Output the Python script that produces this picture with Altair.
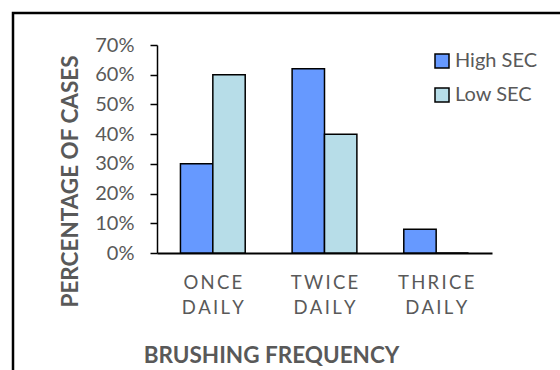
import altair as alt
import pandas as pd

categories = ["ONCE DAILY", "TWICE DAILY", "THRICE DAILY"]
series = ["High SEC", "Low SEC"]
high_sec = [30, 62, 8]
low_sec = [60, 40, 0]
y_ticks = [0, 10, 20, 30, 40, 50, 60, 70]
colors = ["#6699FF", "#B7DDE8"]

rows = []
for c, h, l in zip(categories, high_sec, low_sec):
    rows.append({"freq": c, "group": series[0], "pct": h})
    rows.append({"freq": c, "group": series[1], "pct": l})
df = pd.DataFrame(rows)

FONT = "Lato"
GREY = "#595959"

bars = alt.Chart(df).mark_bar(stroke="black", strokeWidth=1.5).encode(
    x=alt.X("freq:N", sort=categories,
            scale=alt.Scale(paddingInner=0.42, paddingOuter=0.21),
            axis=alt.Axis(
                title="BRUSHING FREQUENCY",
                labelAngle=0,
                labelExpr="[join(split(split(datum.label, ' ')[0], ''), '\u2009'), join(split(split(datum.label, ' ')[1], ''), '\u2009')]",
                labelFont=FONT, labelFontSize=18.5, labelColor=GREY,
                labelPadding=20, labelLineHeight=25, labelBaseline="top",
                ticks=False, domainColor="black", domainWidth=2,
                titleFont=FONT, titleFontSize=22.5, titleFontWeight="bold",
                titleColor=GREY, titleX=114, titleY=102, titleBaseline="middle",
                titleAlign="center",
            )),
    xOffset=alt.XOffset("group:N", sort=series,
                        scale=alt.Scale(paddingInner=0, paddingOuter=0)),
    y=alt.Y("pct:Q", scale=alt.Scale(domain=[0, 70], nice=False),
            axis=alt.Axis(
                title="PERCENTAGE OF CASES",
                values=y_ticks, labelExpr="datum.value + '%'",
                labelFont=FONT, labelFontSize=20, labelColor=GREY,
                labelPadding=16, tickSize=7, tickColor="black", tickWidth=1.5,
                domainColor="black", domainWidth=1.5, grid=False,
                titleFont=FONT, titleFontSize=22.5, titleFontWeight="bold",
                titleColor=GREY, titleX=-87, titleY=136, titleBaseline="middle",
                titleAlign="center", titleAngle=-90,
            )),
    color=alt.Color("group:N", sort=series,
                    scale=alt.Scale(domain=series, range=colors),
                    legend=alt.Legend(
                        title=None, orient="none", legendX=275, legendY=6,
                        symbolType="square", symbolSize=196,
                        symbolStrokeColor="black", symbolStrokeWidth=1.5,
                        labelFont=FONT, labelFontSize=20, labelColor=GREY,
                        labelOffset=3, rowPadding=14, padding=0,
                    )),
)

frame = alt.Chart(pd.DataFrame({"a": [0]})).mark_rect(
    filled=False, stroke="black", strokeWidth=2.5
).encode(
    x=alt.value(-144), x2=alt.value(420),
    y=alt.value(-32), y2=alt.value(340),
)

chart = alt.layer(bars, frame).properties(
    width=335, height=208,
    autosize=alt.AutoSizeParams(type="none"),
    padding={"left": 157, "top": 45, "right": 68, "bottom": 117},
    background="white",
).configure_view(stroke=None)

chart.save("out.html", embed_options={"renderer": "svg", "actions": False})
